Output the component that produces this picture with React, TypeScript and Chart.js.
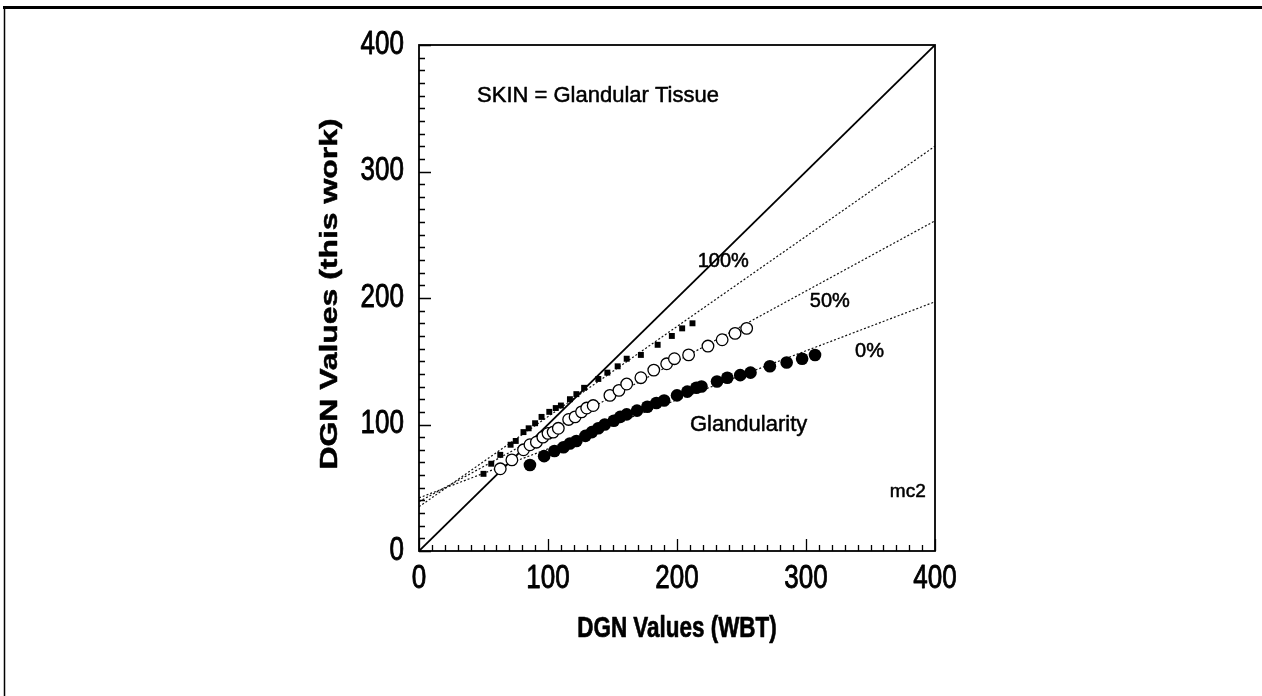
import React, { useEffect, useRef } from "react";
import { Chart, registerables } from "chart.js";

Chart.register(...registerables);

// 100% glandularity (filled squares)
const squareX = [50, 56, 63, 71, 75, 81, 85, 90, 95, 101, 106, 110, 117, 122, 128, 139, 146, 154, 161, 172, 185, 196, 204, 212];
const squareY = [61, 69, 76, 84, 87, 94, 97, 101, 106, 110, 113, 115, 120, 124, 129, 136, 141, 146, 152, 155, 163, 170, 176, 180];
// 50% glandularity (open circles)
const openX = [63, 72, 81, 86, 91, 96, 100, 104, 108, 116, 121, 126, 130, 135, 148, 155, 161, 172, 182, 192, 198, 209, 224, 235, 245, 254];
const openY = [65, 72, 80, 84, 86, 90, 93, 94, 97, 104, 106, 110, 113, 115, 123, 127, 132, 137, 143, 148, 152, 155, 162, 167, 172, 176];
// 0% glandularity (filled circles)
const filledX = [86, 97, 105, 112, 117, 122, 129, 134, 139, 144, 151, 156, 161, 169, 177, 184, 190, 200, 208, 215, 219, 231, 239, 249, 257, 272, 285, 297, 307];
const filledY = [68, 75, 79, 82, 85, 87, 91, 94, 97, 100, 103, 106, 108, 111, 114, 117, 119, 123, 126, 129, 130, 134, 137, 139, 141, 146, 149, 152, 155];
// fitted lines and identity line
const lineX = [0, 400];
const identityY = [0, 400];
const fit100Y = [35, 320];
const fit50Y = [39, 261];
const fit0Y = [42, 197];
// axes
const axisMin = 0;
const axisMax = 400;
const majorStep = 100;
const minorStep = 10;
const tickValues = [0, 100, 200, 300, 400];
const tickLabels = ["0", "100", "200", "300", "400"];
const xTitle = "DGN Values (WBT)";
const yTitle = "DGN Values (this work)";
// annotations (text, x, y in data units)
const noteText = ["SKIN = Glandular Tissue", "100%", "50%", "0%", "Glandularity", "mc2"];
const noteX = [45, 216, 303, 338, 210, 365];
const noteY = [360, 229, 197, 158, 100, 47];
const noteSize = [22, 20, 20, 20, 22, 19];

const FONT = "'Liberation Sans', Arial, Helvetica, sans-serif";

const pts = (xs: number[], ys: number[]) => xs.map((x, i) => ({ x, y: ys[i] }));

function drawText(ctx: CanvasRenderingContext2D, text: string, x: number, y: number, font: string, sx: number, sy: number, align: CanvasTextAlign, rot = 0, weight = 0) {
  ctx.save();
  ctx.translate(x, y);
  if (rot) ctx.rotate(rot);
  ctx.scale(sx, sy);
  ctx.font = font;
  ctx.textAlign = align;
  ctx.textBaseline = "middle";
  ctx.fillStyle = "#000";
  ctx.fillText(text, 0, 0);
  if (weight > 0) {
    ctx.strokeStyle = "#000";
    ctx.lineWidth = weight;
    ctx.lineJoin = "round";
    ctx.strokeText(text, 0, 0);
  }
  ctx.restore();
}

const decorPlugin = {
  id: "decor",
  beforeDraw(chart: any) {
    const { ctx } = chart;
    ctx.save();
    ctx.fillStyle = "#fff";
    ctx.fillRect(0, 0, chart.width, chart.height);
    ctx.strokeStyle = "#000";
    ctx.lineWidth = 3;
    ctx.beginPath();
    ctx.moveTo(3, 7.5);
    ctx.lineTo(chart.width, 7.5);
    ctx.stroke();
    ctx.lineWidth = 1.5;
    ctx.beginPath();
    ctx.moveTo(4.5, 7);
    ctx.lineTo(4.5, chart.height);
    ctx.stroke();
    ctx.restore();
  },
  afterDraw(chart: any) {
    const { ctx, chartArea: a, scales } = chart;
    const xs = scales.x;
    const ys = scales.y;
    ctx.save();
    ctx.strokeStyle = "#000";
    ctx.lineWidth = 1.8;
    ctx.strokeRect(a.left, a.top, a.right - a.left, a.bottom - a.top);
    ctx.lineWidth = 1.3;
    ctx.beginPath();
    for (let v = axisMin; v <= axisMax; v += minorStep) {
      const major = v % majorStep === 0;
      const len = major ? 12 : 6;
      const px = Math.round(xs.getPixelForValue(v)) + 0.5;
      ctx.moveTo(px, a.bottom);
      ctx.lineTo(px, a.bottom - len);
      const py = Math.round(ys.getPixelForValue(v)) + 0.5;
      ctx.moveTo(a.left, py);
      ctx.lineTo(a.left + len, py);
    }
    ctx.stroke();
    ctx.restore();

    const tickFont = `26px ${FONT}`;
    tickValues.forEach((v, i) => {
      drawText(ctx, tickLabels[i], xs.getPixelForValue(v), a.bottom + 28, tickFont, 1, 1.25, "center", 0, 0.7);
      drawText(ctx, tickLabels[i], a.left - 15, ys.getPixelForValue(v), tickFont, 1, 1.25, "right", 0, 0.7);
    });
    const titleFont = `bold 22px ${FONT}`;
    drawText(ctx, xTitle, (a.left + a.right) / 2, a.bottom + 78, titleFont, 1.02, 1.35, "center", 0, 0.5);
    drawText(ctx, yTitle, a.left - 89, (a.top + a.bottom) / 2 - 4, `bold 24px ${FONT}`, 1.33, 1, "center", -Math.PI / 2, 0.5);

    noteText.forEach((t, i) => {
      drawText(ctx, t, xs.getPixelForValue(noteX[i]), ys.getPixelForValue(noteY[i]), `${noteSize[i]}px ${FONT}`, 1, 1, "left", 0, 0.5);
    });
  },
};

export default function App() {
  const ref = useRef<HTMLCanvasElement>(null);
  useEffect(() => {
    document.body.style.margin = "0";
    const canvas = ref.current!;
    const lineBase = { showLine: true, pointRadius: 0, fill: false, order: 2 };
    const chart = new Chart(canvas, {
      type: "scatter",
      data: {
        datasets: [
          { ...lineBase, data: pts(lineX, identityY), borderColor: "#000", borderWidth: 1.8 },
          { ...lineBase, data: pts(lineX, fit100Y), borderColor: "#111", borderWidth: 1.2, borderDash: [2, 2] },
          { ...lineBase, data: pts(lineX, fit50Y), borderColor: "#111", borderWidth: 1.2, borderDash: [2, 2] },
          { ...lineBase, data: pts(lineX, fit0Y), borderColor: "#111", borderWidth: 1.2, borderDash: [2, 2] },
          { data: pts(squareX, squareY), pointStyle: "rect", pointRadius: 4.2, backgroundColor: "#000", borderColor: "#000", borderWidth: 0, order: 1 },
          { data: pts(openX, openY), pointStyle: "circle", pointRadius: 5.8, backgroundColor: "#fff", borderColor: "#000", borderWidth: 1.3, order: 1 },
          { data: pts(filledX, filledY), pointStyle: "circle", pointRadius: 6.3, backgroundColor: "#000", borderColor: "#000", borderWidth: 0, order: 1 },
        ],
      } as any,
      options: {
        animation: false,
        responsive: false,
        devicePixelRatio: 1,
        layout: { padding: { left: 312, right: 327, top: 45, bottom: 50 } },
        plugins: { legend: { display: false }, tooltip: { enabled: false } },
        scales: {
          x: {
            type: "linear",
            min: axisMin,
            max: axisMax,
            grid: { display: false, drawTicks: false },
            border: { display: false },
            ticks: { display: false, stepSize: majorStep },
            title: { display: false },
            afterFit: (s: any) => { s.height = 95; },
          },
          y: {
            type: "linear",
            min: axisMin,
            max: axisMax,
            grid: { display: false, drawTicks: false },
            border: { display: false },
            ticks: { display: false, stepSize: majorStep },
            title: { display: false },
            afterFit: (s: any) => { s.width = 107; },
          },
        },
      } as any,
      plugins: [decorPlugin],
    });
    return () => chart.destroy();
  }, []);
  return <canvas ref={ref} width={1262} height={696} style={{ display: "block" }} />;
}
